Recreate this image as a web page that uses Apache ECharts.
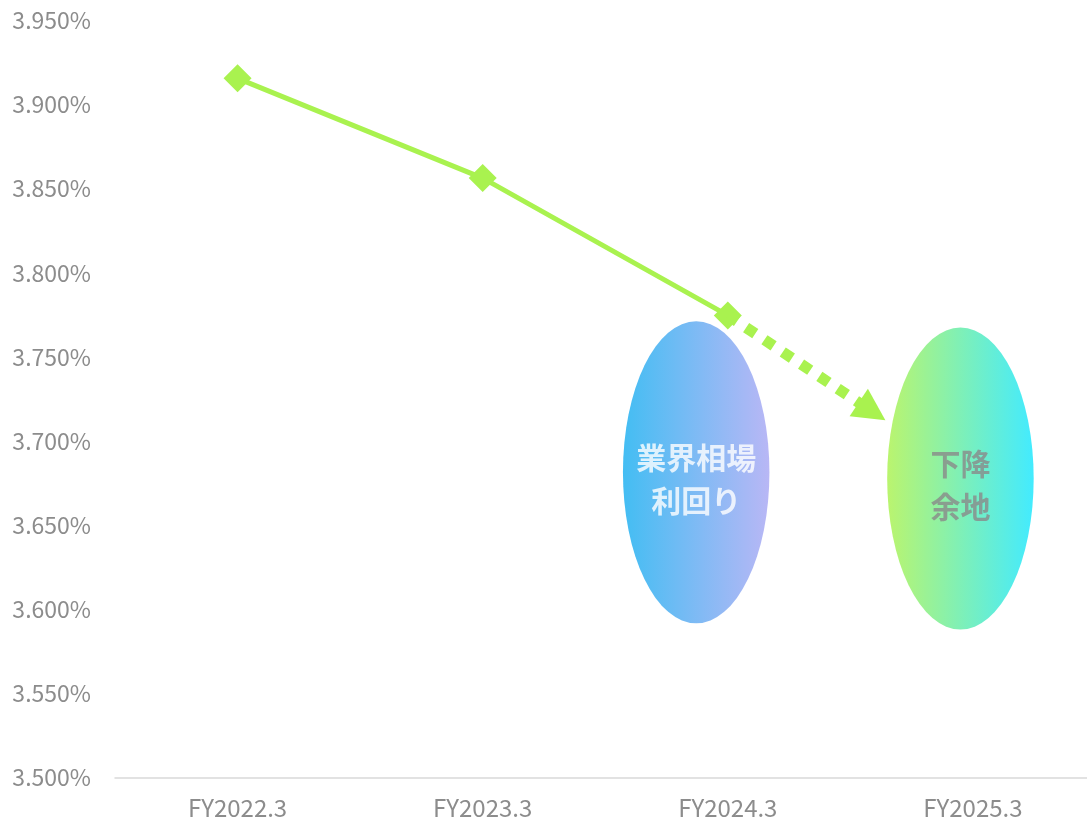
<!DOCTYPE html>
<html>
<head>
<meta charset="utf-8">
<script src="https://cdn.jsdelivr.net/npm/echarts@6/dist/echarts.min.js"></script>
<style>
  html, body { margin: 0; padding: 0; background: #fff; }
  #chart { width: 1087px; height: 822px; }
</style>
</head>
<body>
<div id="chart"></div>
<script>
// 年度カテゴリ
const categories = ['FY2022.3', 'FY2023.3', 'FY2024.3', 'FY2025.3']
// 利回り実績 (%)
const yieldValues = [3.9156, 3.8563, 3.7747, null]
// 下降見込みの矢印 (x はカテゴリ位置: 中心 = index + 0.5)
const forecastArrow = [[2.5, 3.7747], [3.0885, 3.7176]]
// 楕円の注記 [x位置, 値, テキスト]
const bubbles = [
  [2.371, 3.6814, '業界相場\n利回り'],
  [3.449, 3.6777, '下降\n余地']
]
// 目盛
const yMin = 3.5
const yMax = 3.95
const yStep = 0.05

const GREEN = '#a9f24f'
const ELLIPSE = 'path://M0,50 A50,50 0 1,1 100,50 A50,50 0 1,1 0,50 Z'
const FONT = '"Noto Sans CJK JP", "Noto Sans", sans-serif'

const chart = echarts.init(document.getElementById('chart'))

chart.setOption({
  animation: false,
  backgroundColor: '#fff',
  // 軸は画面右端の少し外まで伸びている
  grid: { left: 115, width: 980.5, top: 20.5, bottom: 44.5, outerBoundsMode: 'none', containLabel: false },
  xAxis: [
    {
      type: 'category',
      data: categories,
      axisLine: { lineStyle: { color: '#d9d9d9', width: 1.5 } },
      axisTick: { show: false },
      axisLabel: { color: '#8c8c8c', fontSize: 24, margin: 18, fontFamily: FONT }
    },
    { type: 'value', min: 0, max: 4, show: false }
  ],
  yAxis: {
    type: 'value',
    min: yMin,
    max: yMax,
    interval: yStep,
    axisLine: { show: false },
    axisTick: { show: false },
    splitLine: { show: false },
    axisLabel: {
      color: '#8c8c8c',
      fontSize: 23,
      margin: 24,
      fontFamily: FONT,
      formatter: v => v.toFixed(3) + '%'
    }
  },
  series: [
    {
      type: 'scatter',
      xAxisIndex: 1,
      symbol: ELLIPSE,
      symbolSize: [146.5, 302],
      z: 1,
      data: bubbles.map((b, i) => ({
        value: [b[0], b[1]],
        itemStyle: {
          color: {
            type: 'linear', x: 0, y: 0, x2: 1, y2: 0,
            colorStops: i === 0
              ? [{ offset: 0, color: '#14adf0' }, { offset: 1, color: '#a7a5f3' }]
              : [{ offset: 0, color: '#a9f24a' }, { offset: 1, color: '#14e6ff' }]
          }
        },
        label: {
          show: true,
          position: 'inside',
          formatter: b[2],
          color: i === 0 ? '#ffffff' : '#8a8a8a',
          fontSize: 30,
          fontWeight: 'bold',
          lineHeight: 43,
          offset: [0, 7],
          fontFamily: FONT
        }
      }))
    },
    {
      type: 'line',
      xAxisIndex: 1,
      data: [],
      z: 3,
      markLine: {
        silent: true,
        symbol: ['none', 'triangle'],
        symbolSize: [33, 32],
        label: { show: false },
        lineStyle: { color: GREEN, width: 11, type: [11, 11], opacity: 1 },
        data: [[
          { coord: forecastArrow[0] },
          { coord: forecastArrow[1] }
        ]]
      }
    },
    {
      type: 'line',
      data: yieldValues,
      z: 4,
      symbol: 'diamond',
      symbolSize: 28,
      lineStyle: { color: GREEN, width: 5 },
      itemStyle: { color: GREEN }
    }
  ]
})
</script>
</body>
</html>
